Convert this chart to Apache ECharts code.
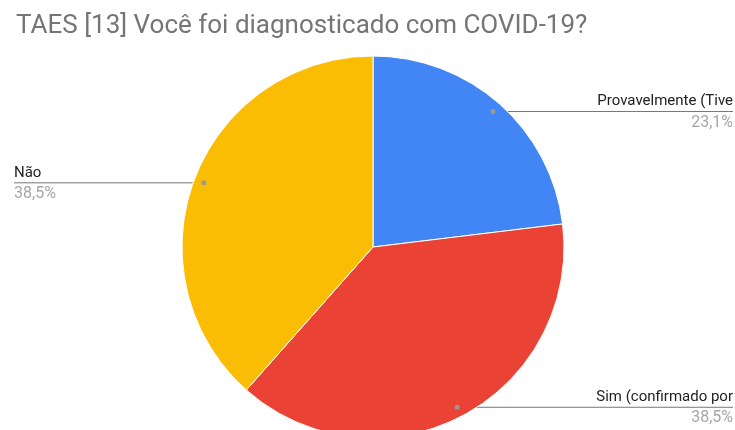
<!DOCTYPE html>
<html>
<head>
<meta charset="utf-8">
<script src="https://cdn.jsdelivr.net/npm/echarts@6/dist/echarts.min.js"></script>
<style>
  html, body { margin: 0; padding: 0; background: #fff; }
  #chart { width: 735px; height: 430px; }
</style>
</head>
<body>
<div id="chart"></div>
<script>
    // respostas (contagens)
    var categories = ['Provavelmente (Tive', 'Sim (confirmado por', 'Não']
    var values = [3, 5, 5]
    var colors = ['#4285f4', '#ea4335', '#fbbc04']

    var cx = 373, cy = 247, radius = 191, dotR = 181

    var total = values.reduce(function (a, b) { return a + b }, 0)

    // angulo medio de cada fatia (a partir do topo, sentido horario)
    var mids = []
    var acc = 0
    values.forEach(function (v) {
        mids.push((acc + v / 2) / total * Math.PI * 2)
        acc += v
    })
    function dotPos(i) {
        return [cx + Math.sin(mids[i]) * dotR, cy - Math.cos(mids[i]) * dotR]
    }

    var myChart = echarts.init(document.getElementById('chart'))

    var dots = mids.map(function (m, i) {
        var p = dotPos(i)
        return {
            type: 'circle',
            shape: { cx: p[0], cy: p[1], r: 2.5 },
            style: { fill: '#999' },
            z: 100
        }
    })

    var option = {
        animation: false,
        title: {
            text: 'TAES [13] Você foi diagnosticado com COVID-19?',
            left: 11,
            top: 8,
            textStyle: {
                color: '#757575',
                fontSize: 26,
                fontWeight: 'normal',
                fontFamily: 'Roboto'
            }
        },
        graphic: dots,
        series: [{
            type: 'pie',
            center: [cx, cy],
            radius: radius,
            startAngle: 90,
            clockwise: true,
            itemStyle: { borderColor: '#fff', borderWidth: 1 },
            data: categories.map(function (c, i) {
                return { name: c, value: values[i], itemStyle: { color: colors[i] } }
            }),
            label: {
                position: 'outside',
                formatter: function (p) {
                    return '{n|' + p.name + '}\n{p|' + p.percent.toFixed(1).replace('.', ',') + '%}'
                },
                rich: {
                    n: { fontSize: 15, color: '#222', fontFamily: 'Roboto', lineHeight: 22 },
                    p: { fontSize: 16, color: '#a6a6a6', fontFamily: 'Roboto', lineHeight: 20 }
                }
            },
            labelLine: {
                show: true,
                lineStyle: { color: '#777', width: 1 }
            },
            labelLayout: function (params) {
                var p = dotPos(params.dataIndex)
                var right = p[0] > cx
                var edgeX = right ? 733 : 14
                return {
                    x: edgeX,
                    y: p[1],
                    align: right ? 'right' : 'left',
                    verticalAlign: 'middle',
                    labelLinePoints: [p, [edgeX, p[1]], [edgeX, p[1]]]
                }
            }
        }]
    }

    myChart.setOption(option)
</script>
</body>
</html>
